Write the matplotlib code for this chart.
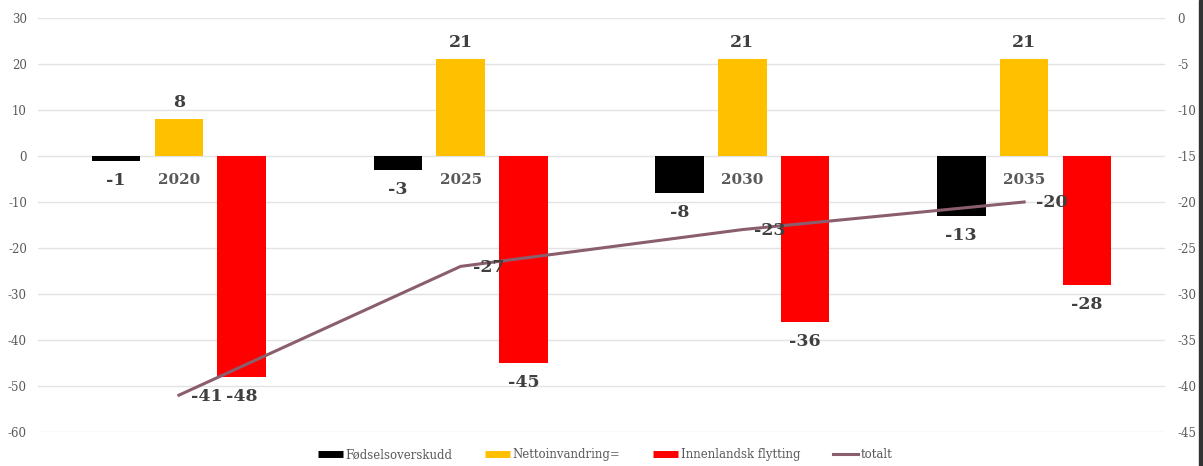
import numpy as np
import matplotlib
matplotlib.use("Agg")
from matplotlib import pyplot as plt
from matplotlib.lines import Line2D
from matplotlib.patches import Rectangle

# Data
years = ['2020', '2025', '2030', '2035']
fodsel = [-1, -3, -8, -13]
netto = [8, 21, 21, 21]
innen = [-48, -45, -36, -28]
totalt = [-41, -27, -23, -20]
names = ['Fødselsoverskudd', 'Nettoinvandring=', 'Innenlandsk flytting', 'totalt']

plt.rcParams['font.family'] = ['DejaVu Serif']
plt.rcParams['axes.unicode_minus'] = False
txt = '#404040'
gray = '#595959'

fig = plt.figure(figsize=(12.03, 4.66), dpi=100)
ax = fig.add_axes([0.0316, 0.073, 0.9368, 0.8884])
ax2 = ax.twinx()

x = np.arange(len(years))
w = 0.172
off = 0.223
b1 = ax.bar(x - off, fodsel, w, color='#000000')
b2 = ax.bar(x, netto, w, color='#FFC000')
b3 = ax.bar(x + off, innen, w, color='#FF0000')

ax.set_xlim(-0.5, 3.5)
ax.set_ylim(-60, 30)
ax.set_yticks(range(-60, 31, 10))
ax.set_xticks([])
ax.set_axisbelow(True)
ax.grid(axis='y', color='#e3e3e3', lw=1)
for s in ax.spines.values():
    s.set_visible(False)
ax.tick_params(axis='y', length=0, pad=8, labelsize=8.5, labelcolor=gray)

ax2.plot(x, totalt, color='#8B5E6E', lw=2.2)
ax2.set_ylim(-45, 0)
ax2.set_yticks(range(-45, 1, 5))
for s in ax2.spines.values():
    s.set_visible(False)
ax2.tick_params(axis='y', length=0, pad=9, labelsize=8.5, labelcolor=gray)

# value labels
for bars, vals in [(b1, fodsel), (b2, netto), (b3, innen)]:
    for r, v in zip(bars, vals):
        cx = r.get_x() + r.get_width() / 2
        if v >= 0:
            ax.annotate(str(v), (cx, v), xytext=(0, 8), textcoords='offset pixels',
                        ha='center', va='bottom', fontsize=12.5, fontweight='bold', color=txt)
        else:
            ax.annotate(str(v), (cx, v), xytext=(0, -11), textcoords='offset pixels',
                        ha='center', va='top', fontsize=12.5, fontweight='bold', color=txt)

# category labels at zero line
for i, yr in enumerate(years):
    ax.annotate(yr, (i, 0), xytext=(0, -24), textcoords='offset pixels',
                ha='center', va='center', fontsize=11, fontweight='bold', color=gray)

for i, v in enumerate(totalt):
    ax2.annotate(str(v), (i, v), xytext=(12, -1), textcoords='offset pixels',
                 ha='left', va='center', fontsize=12.5, fontweight='bold', color=txt, zorder=5)

handles = [Line2D([], [], color='#000000', lw=5, solid_capstyle='butt'),
           Line2D([], [], color='#FFC000', lw=5, solid_capstyle='butt'),
           Line2D([], [], color='#FF0000', lw=5, solid_capstyle='butt'),
           Line2D([], [], color='#8B5E6E', lw=2.2)]
fig.legend(handles, names, loc='lower center', bbox_to_anchor=(0.503, -0.013), ncol=4,
           frameon=False, fontsize=8.5, labelcolor=gray, handlelength=2.1,
           handletextpad=0.2, columnspacing=2.8)

fig.patches.append(Rectangle((0.9967, 0), 0.0033, 1, transform=fig.transFigure,
                             color='#333333'))

fig.savefig('out.png', dpi=100)
